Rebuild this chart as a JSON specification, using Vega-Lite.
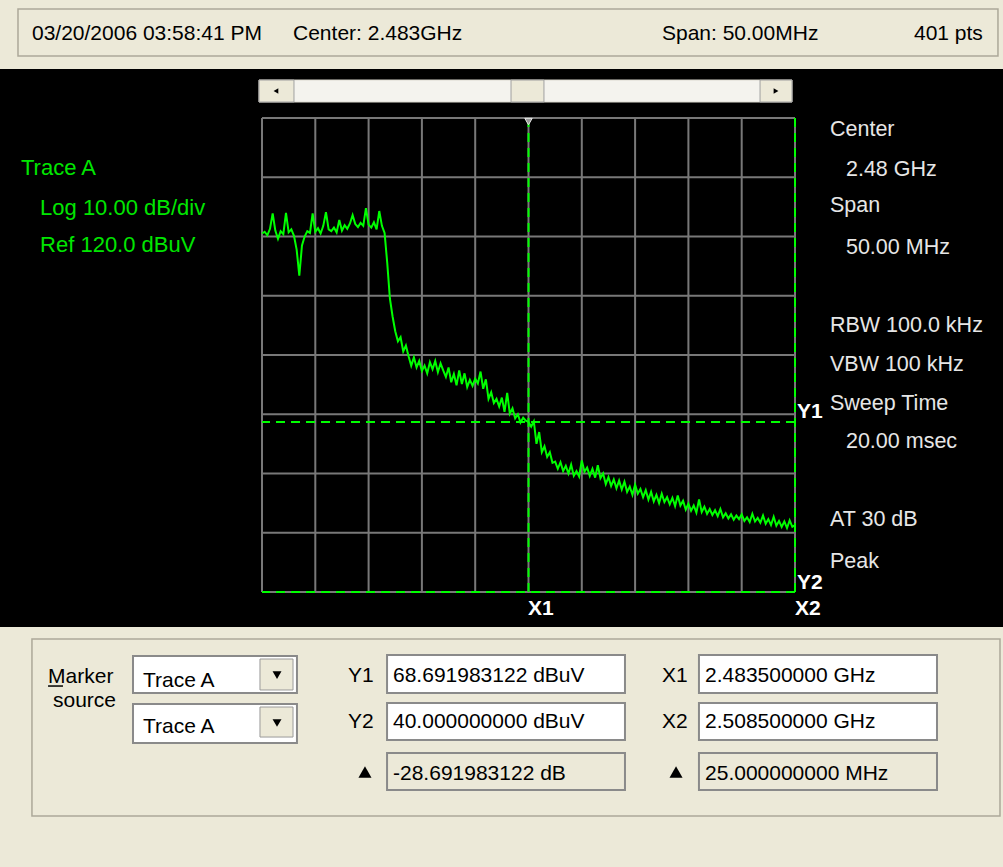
{
  "$schema": "https://vega.github.io/schema/vega-lite/v6.json",
  "width": 533,
  "height": 474,
  "autosize": {"type": "none"},
  "padding": {"left": 262, "top": 118, "right": 208, "bottom": 275},
  "background": "#000000",
  "config": {"view": {"stroke": null}, "font": "Liberation Sans"},
  "datasets": {
    "trace": [
      {"f":2458.50,"dBuV":100.5},{"f":2458.75,"dBuV":100.8},{"f":2459.00,"dBuV":100.2},{"f":2459.25,"dBuV":101.3},
      {"f":2459.50,"dBuV":103.9},{"f":2459.75,"dBuV":101.0},{"f":2460.00,"dBuV":99.6},{"f":2460.25,"dBuV":100.9},
      {"f":2460.50,"dBuV":100.4},{"f":2460.75,"dBuV":104.0},{"f":2461.00,"dBuV":100.7},{"f":2461.25,"dBuV":101.2},
      {"f":2461.50,"dBuV":100.1},{"f":2461.75,"dBuV":97.8},{"f":2462.00,"dBuV":93.4},{"f":2462.25,"dBuV":98.5},
      {"f":2462.50,"dBuV":100.0},{"f":2462.75,"dBuV":100.9},{"f":2463.00,"dBuV":100.6},{"f":2463.25,"dBuV":103.9},
      {"f":2463.50,"dBuV":100.8},{"f":2463.75,"dBuV":101.4},{"f":2464.00,"dBuV":100.5},{"f":2464.25,"dBuV":101.8},
      {"f":2464.50,"dBuV":104.1},{"f":2464.75,"dBuV":101.2},{"f":2465.00,"dBuV":100.9},{"f":2465.25,"dBuV":101.5},
      {"f":2465.50,"dBuV":100.7},{"f":2465.75,"dBuV":102.8},{"f":2466.00,"dBuV":101.0},{"f":2466.25,"dBuV":101.9},
      {"f":2466.50,"dBuV":101.3},{"f":2466.75,"dBuV":102.2},{"f":2467.00,"dBuV":103.6},{"f":2467.25,"dBuV":102.1},
      {"f":2467.50,"dBuV":101.6},{"f":2467.75,"dBuV":102.3},{"f":2468.00,"dBuV":101.8},{"f":2468.25,"dBuV":104.8},
      {"f":2468.50,"dBuV":102.0},{"f":2468.75,"dBuV":101.5},{"f":2469.00,"dBuV":102.4},{"f":2469.25,"dBuV":101.2},
      {"f":2469.50,"dBuV":104.3},{"f":2469.75,"dBuV":101.8},{"f":2470.00,"dBuV":100.6},{"f":2470.25,"dBuV":95.5},
      {"f":2470.50,"dBuV":89.5},{"f":2470.75,"dBuV":86.5},{"f":2471.00,"dBuV":84.0},{"f":2471.25,"dBuV":82.3},
      {"f":2471.50,"dBuV":83.0},{"f":2471.75,"dBuV":80.6},{"f":2472.00,"dBuV":81.6},{"f":2472.25,"dBuV":79.8},
      {"f":2472.50,"dBuV":78.2},{"f":2472.75,"dBuV":79.6},{"f":2473.00,"dBuV":77.9},{"f":2473.25,"dBuV":79.0},
      {"f":2473.50,"dBuV":77.3},{"f":2473.75,"dBuV":78.2},{"f":2474.00,"dBuV":76.9},{"f":2474.25,"dBuV":78.8},
      {"f":2474.50,"dBuV":77.6},{"f":2474.75,"dBuV":79.0},{"f":2475.00,"dBuV":77.1},{"f":2475.25,"dBuV":78.6},
      {"f":2475.50,"dBuV":77.4},{"f":2475.75,"dBuV":76.3},{"f":2476.00,"dBuV":77.9},{"f":2476.25,"dBuV":75.4},
      {"f":2476.50,"dBuV":76.8},{"f":2476.75,"dBuV":74.9},{"f":2477.00,"dBuV":77.4},{"f":2477.25,"dBuV":75.1},
      {"f":2477.50,"dBuV":76.9},{"f":2477.75,"dBuV":74.6},{"f":2478.00,"dBuV":75.8},{"f":2478.25,"dBuV":74.8},
      {"f":2478.50,"dBuV":76.0},{"f":2478.75,"dBuV":75.2},{"f":2479.00,"dBuV":77.2},{"f":2479.25,"dBuV":74.3},
      {"f":2479.50,"dBuV":75.9},{"f":2479.75,"dBuV":72.6},{"f":2480.00,"dBuV":73.7},{"f":2480.25,"dBuV":71.9},
      {"f":2480.50,"dBuV":72.6},{"f":2480.75,"dBuV":71.3},{"f":2481.00,"dBuV":72.8},{"f":2481.25,"dBuV":70.4},
      {"f":2481.50,"dBuV":73.6},{"f":2481.75,"dBuV":70.1},{"f":2482.00,"dBuV":71.0},{"f":2482.25,"dBuV":69.3},
      {"f":2482.50,"dBuV":70.0},{"f":2482.75,"dBuV":68.6},{"f":2483.00,"dBuV":69.4},{"f":2483.25,"dBuV":68.9},
      {"f":2483.50,"dBuV":68.7},{"f":2483.75,"dBuV":67.9},{"f":2484.00,"dBuV":68.8},{"f":2484.25,"dBuV":65.0},
      {"f":2484.50,"dBuV":67.0},{"f":2484.75,"dBuV":63.6},{"f":2485.00,"dBuV":64.6},{"f":2485.25,"dBuV":62.8},
      {"f":2485.50,"dBuV":63.6},{"f":2485.75,"dBuV":61.8},{"f":2486.00,"dBuV":62.0},{"f":2486.25,"dBuV":60.8},
      {"f":2486.50,"dBuV":61.9},{"f":2486.75,"dBuV":60.4},{"f":2487.00,"dBuV":61.3},{"f":2487.25,"dBuV":60.0},
      {"f":2487.50,"dBuV":61.5},{"f":2487.75,"dBuV":59.6},{"f":2488.00,"dBuV":60.4},{"f":2488.25,"dBuV":59.5},
      {"f":2488.50,"dBuV":62.2},{"f":2488.75,"dBuV":60.3},{"f":2489.00,"dBuV":61.0},{"f":2489.25,"dBuV":59.6},
      {"f":2489.50,"dBuV":60.8},{"f":2489.75,"dBuV":59.3},{"f":2490.00,"dBuV":61.4},{"f":2490.25,"dBuV":59.2},
      {"f":2490.50,"dBuV":60.0},{"f":2490.75,"dBuV":58.2},{"f":2491.00,"dBuV":59.4},{"f":2491.25,"dBuV":57.9},
      {"f":2491.50,"dBuV":59.0},{"f":2491.75,"dBuV":57.5},{"f":2492.00,"dBuV":58.8},{"f":2492.25,"dBuV":57.3},
      {"f":2492.50,"dBuV":58.6},{"f":2492.75,"dBuV":56.9},{"f":2493.00,"dBuV":57.8},{"f":2493.25,"dBuV":56.4},
      {"f":2493.50,"dBuV":58.1},{"f":2493.75,"dBuV":56.6},{"f":2494.00,"dBuV":57.4},{"f":2494.25,"dBuV":56.0},
      {"f":2494.50,"dBuV":57.2},{"f":2494.75,"dBuV":55.6},{"f":2495.00,"dBuV":56.9},{"f":2495.25,"dBuV":55.3},
      {"f":2495.50,"dBuV":56.4},{"f":2495.75,"dBuV":55.0},{"f":2496.00,"dBuV":56.6},{"f":2496.25,"dBuV":55.2},
      {"f":2496.50,"dBuV":56.0},{"f":2496.75,"dBuV":54.8},{"f":2497.00,"dBuV":55.9},{"f":2497.25,"dBuV":54.5},
      {"f":2497.50,"dBuV":56.3},{"f":2497.75,"dBuV":54.6},{"f":2498.00,"dBuV":55.4},{"f":2498.25,"dBuV":53.9},
      {"f":2498.50,"dBuV":54.9},{"f":2498.75,"dBuV":53.7},{"f":2499.00,"dBuV":54.6},{"f":2499.25,"dBuV":53.4},
      {"f":2499.50,"dBuV":55.6},{"f":2499.75,"dBuV":53.5},{"f":2500.00,"dBuV":54.4},{"f":2500.25,"dBuV":53.2},
      {"f":2500.50,"dBuV":54.0},{"f":2500.75,"dBuV":53.0},{"f":2501.00,"dBuV":53.8},{"f":2501.25,"dBuV":52.8},
      {"f":2501.50,"dBuV":54.0},{"f":2501.75,"dBuV":52.6},{"f":2502.00,"dBuV":53.3},{"f":2502.25,"dBuV":52.4},
      {"f":2502.50,"dBuV":53.1},{"f":2502.75,"dBuV":52.2},{"f":2503.00,"dBuV":52.9},{"f":2503.25,"dBuV":52.3},
      {"f":2503.50,"dBuV":53.1},{"f":2503.75,"dBuV":52.0},{"f":2504.00,"dBuV":52.6},{"f":2504.25,"dBuV":51.8},
      {"f":2504.50,"dBuV":53.2},{"f":2504.75,"dBuV":51.9},{"f":2505.00,"dBuV":52.5},{"f":2505.25,"dBuV":51.7},
      {"f":2505.50,"dBuV":52.9},{"f":2505.75,"dBuV":51.5},{"f":2506.00,"dBuV":52.3},{"f":2506.25,"dBuV":51.3},
      {"f":2506.50,"dBuV":52.7},{"f":2506.75,"dBuV":51.2},{"f":2507.00,"dBuV":52.0},{"f":2507.25,"dBuV":51.0},
      {"f":2507.50,"dBuV":51.9},{"f":2507.75,"dBuV":50.8},{"f":2508.00,"dBuV":52.1},{"f":2508.25,"dBuV":51.0},
      {"f":2508.50,"dBuV":51.3}
    ],
    "gridX": [
      {"f":2458.5},{"f":2463.5},{"f":2468.5},{"f":2473.5},{"f":2478.5},{"f":2483.5},
      {"f":2488.5},{"f":2493.5},{"f":2498.5},{"f":2503.5},{"f":2508.5}
    ],
    "gridY": [
      {"d":40},{"d":50},{"d":60},{"d":70},{"d":80},{"d":90},{"d":100},{"d":110},{"d":120}
    ],
    "markerX": [{"f":2483.5},{"f":2508.5}],
    "markerY": [{"d":68.691983122},{"d":40}],
    "markerTop": [{"f":2483.5,"d":119.4}],
    "panels": [
      {"f":2433,"f2":2529,"d":141,"d2":128.27},
      {"f":2433,"f2":2529,"d":34.09,"d2":-7}
    ],
    "etched": [
      {"f":2435.61,"f2":2527.54,"d":138.40,"d2":130.46},
      {"f":2436.92,"f2":2527.73,"d":32.07,"d2":2.19}
    ],
    "track": [
      {"f":2458.22,"f2":2508.22,"d":126.41,"d2":122.70}
    ],
    "buttons": [
      {"f":2458.22,"f2":2461.50,"d":126.41,"d2":122.70},
      {"f":2481.86,"f2":2484.95,"d":126.41,"d2":122.70},
      {"f":2505.22,"f2":2508.22,"d":126.41,"d2":122.70}
    ],
    "whiteboxes": [
      {"f":2446.40,"f2":2461.78,"d":29.20,"d2":22.95},
      {"f":2446.40,"f2":2461.78,"d":21.10,"d2":14.51},
      {"f":2470.23,"f2":2492.55,"d":29.37,"d2":22.95},
      {"f":2470.23,"f2":2492.55,"d":21.27,"d2":15.02},
      {"f":2499.49,"f2":2521.82,"d":29.37,"d2":22.95},
      {"f":2499.49,"f2":2521.82,"d":21.27,"d2":15.02}
    ],
    "greyboxes": [
      {"f":2470.23,"f2":2492.55,"d":12.83,"d2":6.58},
      {"f":2499.49,"f2":2521.82,"d":12.83,"d2":6.58}
    ],
    "dropbuttons": [
      {"f":2458.31,"f2":2461.41,"d":28.69,"d2":23.46},
      {"f":2458.31,"f2":2461.41,"d":20.59,"d2":15.52}
    ],
    "arrowsdown": [
      {"f":2459.91,"d":25.99},
      {"f":2459.91,"d":17.89}
    ],
    "arrowleft": [{"f":2459.81,"d":124.56}],
    "arrowright": [{"f":2506.72,"d":124.56}],
    "deltas": [
      {"f":2468.16,"d":9.62},
      {"f":2497.34,"d":9.62}
    ],
    "underline": [{"f":2438.43,"f2":2439.83,"d":24.13}],
    "txtBlack": [
      {"text":"03/20/2006 03:58:41 PM","f":2436.92,"d":133.16},
      {"text":"Center: 2.483GHz","f":2461.41,"d":133.16},
      {"text":"Span: 50.00MHz","f":2496.02,"d":133.16},
      {"text":"401 pts","f":2519.66,"d":133.16},
      {"text":"Marker","f":2438.43,"d":24.64},
      {"text":"source","f":2438.89,"d":20.59},
      {"text":"Trace A","f":2447.34,"d":23.97},
      {"text":"Trace A","f":2447.34,"d":16.20},
      {"text":"Y1","f":2466.57,"d":24.81},
      {"text":"Y2","f":2466.57,"d":17.05},
      {"text":"68.691983122 dBuV","f":2470.79,"d":24.81},
      {"text":"40.000000000 dBuV","f":2470.79,"d":17.05},
      {"text":"-28.691983122 dB","f":2470.79,"d":8.27},
      {"text":"X1","f":2496.02,"d":24.81},
      {"text":"X2","f":2496.02,"d":17.05},
      {"text":"2.483500000 GHz","f":2500.06,"d":24.81},
      {"text":"2.508500000 GHz","f":2500.06,"d":17.05},
      {"text":"25.000000000 MHz","f":2500.06,"d":8.27}
    ],
    "txtGreen": [
      {"text":"Trace A","f":2435.89,"d":110.38},
      {"text":"Log 10.00 dB/div","f":2437.68,"d":103.6},
      {"text":"Ref 120.0 dBuV","f":2437.68,"d":97.3}
    ],
    "txtWhite": [
      {"text":"Center","f":2511.78,"d":116.96},
      {"text":"2.48 GHz","f":2513.28,"d":110.21},
      {"text":"Span","f":2511.78,"d":104.13},
      {"text":"50.00 MHz","f":2513.28,"d":97.05},
      {"text":"RBW 100.0 kHz","f":2511.78,"d":83.88},
      {"text":"VBW 100 kHz","f":2511.78,"d":77.30},
      {"text":"Sweep Time","f":2511.78,"d":70.72},
      {"text":"20.00 msec","f":2513.28,"d":64.30},
      {"text":"AT 30 dB","f":2511.78,"d":51.14},
      {"text":"Peak","f":2511.78,"d":44.05}
    ],
    "markerLabels": [
      {"text":"Y1","f":2508.69,"d":69.37},
      {"text":"Y2","f":2508.69,"d":40.51},
      {"text":"X1","f":2483.45,"d":36.12},
      {"text":"X2","f":2508.5,"d":36.12}
    ]
  },
  "layer": [
    {
      "data": {"name": "panels"},
      "mark": {"type": "rect", "color": "#ece9d8"},
      "encoding": {
        "x": {"field": "f", "type": "quantitative", "axis": null, "scale": {"domain": [2458.5, 2508.5], "nice": false, "zero": false}},
        "x2": {"field": "f2"},
        "y": {"field": "d", "type": "quantitative", "axis": null, "scale": {"domain": [40, 120], "nice": false, "zero": false}},
        "y2": {"field": "d2"}
      }
    },
    {
      "data": {"name": "etched"},
      "mark": {"type": "rect", "filled": false, "color": "#aca899", "strokeWidth": 1.5},
      "encoding": {
        "x": {"field": "f", "type": "quantitative", "axis": null}, "x2": {"field": "f2"},
        "y": {"field": "d", "type": "quantitative", "axis": null}, "y2": {"field": "d2"}
      }
    },
    {
      "data": {"name": "track"},
      "mark": {"type": "rect", "fill": "#f4f3ee", "stroke": "#dcdad0", "strokeWidth": 1},
      "encoding": {
        "x": {"field": "f", "type": "quantitative", "axis": null}, "x2": {"field": "f2"},
        "y": {"field": "d", "type": "quantitative", "axis": null}, "y2": {"field": "d2"}
      }
    },
    {
      "data": {"name": "buttons"},
      "mark": {"type": "rect", "fill": "#ece9d8", "stroke": "#a0a0a0", "strokeWidth": 1},
      "encoding": {
        "x": {"field": "f", "type": "quantitative", "axis": null}, "x2": {"field": "f2"},
        "y": {"field": "d", "type": "quantitative", "axis": null}, "y2": {"field": "d2"}
      }
    },
    {
      "data": {"name": "whiteboxes"},
      "mark": {"type": "rect", "fill": "#ffffff", "stroke": "#8a8a8a", "strokeWidth": 2},
      "encoding": {
        "x": {"field": "f", "type": "quantitative", "axis": null}, "x2": {"field": "f2"},
        "y": {"field": "d", "type": "quantitative", "axis": null}, "y2": {"field": "d2"}
      }
    },
    {
      "data": {"name": "greyboxes"},
      "mark": {"type": "rect", "fill": "#ece9d8", "stroke": "#8a8a8a", "strokeWidth": 2},
      "encoding": {
        "x": {"field": "f", "type": "quantitative", "axis": null}, "x2": {"field": "f2"},
        "y": {"field": "d", "type": "quantitative", "axis": null}, "y2": {"field": "d2"}
      }
    },
    {
      "data": {"name": "dropbuttons"},
      "mark": {"type": "rect", "fill": "#ece9d8", "stroke": "#9a9a9a", "strokeWidth": 1},
      "encoding": {
        "x": {"field": "f", "type": "quantitative", "axis": null}, "x2": {"field": "f2"},
        "y": {"field": "d", "type": "quantitative", "axis": null}, "y2": {"field": "d2"}
      }
    },
    {
      "data": {"name": "arrowsdown"},
      "mark": {"type": "point", "shape": "triangle-down", "filled": true, "color": "#000000", "size": 80, "opacity": 1},
      "encoding": {
        "x": {"field": "f", "type": "quantitative", "axis": null},
        "y": {"field": "d", "type": "quantitative", "axis": null}
      }
    },
    {
      "data": {"name": "arrowleft"},
      "mark": {"type": "point", "shape": "triangle-left", "filled": true, "color": "#000000", "size": 30, "opacity": 1},
      "encoding": {
        "x": {"field": "f", "type": "quantitative", "axis": null},
        "y": {"field": "d", "type": "quantitative", "axis": null}
      }
    },
    {
      "data": {"name": "arrowright"},
      "mark": {"type": "point", "shape": "triangle-right", "filled": true, "color": "#000000", "size": 30, "opacity": 1},
      "encoding": {
        "x": {"field": "f", "type": "quantitative", "axis": null},
        "y": {"field": "d", "type": "quantitative", "axis": null}
      }
    },
    {
      "data": {"name": "deltas"},
      "mark": {"type": "point", "shape": "triangle-up", "filled": true, "color": "#000000", "size": 170, "opacity": 1},
      "encoding": {
        "x": {"field": "f", "type": "quantitative", "axis": null},
        "y": {"field": "d", "type": "quantitative", "axis": null}
      }
    },
    {
      "data": {"name": "underline"},
      "mark": {"type": "rule", "color": "#000000", "strokeWidth": 1.5},
      "encoding": {
        "x": {"field": "f", "type": "quantitative", "axis": null}, "x2": {"field": "f2"},
        "y": {"field": "d", "type": "quantitative", "axis": null}
      }
    },
    {
      "data": {"name": "gridX"},
      "mark": {"type": "rule", "color": "#787878", "strokeWidth": 2},
      "encoding": {"x": {"field": "f", "type": "quantitative", "axis": null}}
    },
    {
      "data": {"name": "gridY"},
      "mark": {"type": "rule", "color": "#787878", "strokeWidth": 2},
      "encoding": {"y": {"field": "d", "type": "quantitative", "axis": null}}
    },
    {
      "data": {"name": "trace"},
      "mark": {"type": "line", "color": "#00ff00", "strokeWidth": 2, "interpolate": "linear"},
      "encoding": {
        "x": {"field": "f", "type": "quantitative", "axis": null},
        "y": {"field": "dBuV", "type": "quantitative", "axis": null}
      }
    },
    {
      "data": {"name": "markerX"},
      "mark": {"type": "rule", "color": "#00ff00", "strokeWidth": 2, "strokeDash": [9, 6]},
      "encoding": {"x": {"field": "f", "type": "quantitative", "axis": null}}
    },
    {
      "data": {"name": "markerY"},
      "mark": {"type": "rule", "color": "#00ff00", "strokeWidth": 2, "strokeDash": [9, 6]},
      "encoding": {"y": {"field": "d", "type": "quantitative", "axis": null}}
    },
    {
      "data": {"name": "markerTop"},
      "mark": {"type": "point", "shape": "triangle-down", "filled": true, "fill": "#9a9a9a", "stroke": "#e8e8e8", "strokeWidth": 1, "size": 55, "opacity": 1},
      "encoding": {
        "x": {"field": "f", "type": "quantitative", "axis": null},
        "y": {"field": "d", "type": "quantitative", "axis": null}
      }
    },
    {
      "data": {"name": "txtBlack"},
      "mark": {"type": "text", "align": "left", "baseline": "alphabetic", "font": "Liberation Sans", "fontSize": 21, "color": "#000000"},
      "encoding": {
        "x": {"field": "f", "type": "quantitative", "axis": null},
        "y": {"field": "d", "type": "quantitative", "axis": null},
        "text": {"field": "text"}
      }
    },
    {
      "data": {"name": "txtGreen"},
      "mark": {"type": "text", "align": "left", "baseline": "alphabetic", "font": "Liberation Sans", "fontSize": 22, "color": "#00e600"},
      "encoding": {
        "x": {"field": "f", "type": "quantitative", "axis": null},
        "y": {"field": "d", "type": "quantitative", "axis": null},
        "text": {"field": "text"}
      }
    },
    {
      "data": {"name": "txtWhite"},
      "mark": {"type": "text", "align": "left", "baseline": "alphabetic", "font": "Liberation Sans", "fontSize": 21.5, "color": "#e6e6e6"},
      "encoding": {
        "x": {"field": "f", "type": "quantitative", "axis": null},
        "y": {"field": "d", "type": "quantitative", "axis": null},
        "text": {"field": "text"}
      }
    },
    {
      "data": {"name": "markerLabels"},
      "mark": {"type": "text", "align": "left", "baseline": "alphabetic", "font": "Liberation Sans", "fontSize": 21, "fontWeight": "bold", "color": "#ffffff"},
      "encoding": {
        "x": {"field": "f", "type": "quantitative", "axis": null},
        "y": {"field": "d", "type": "quantitative", "axis": null},
        "text": {"field": "text"}
      }
    }
  ]
}
